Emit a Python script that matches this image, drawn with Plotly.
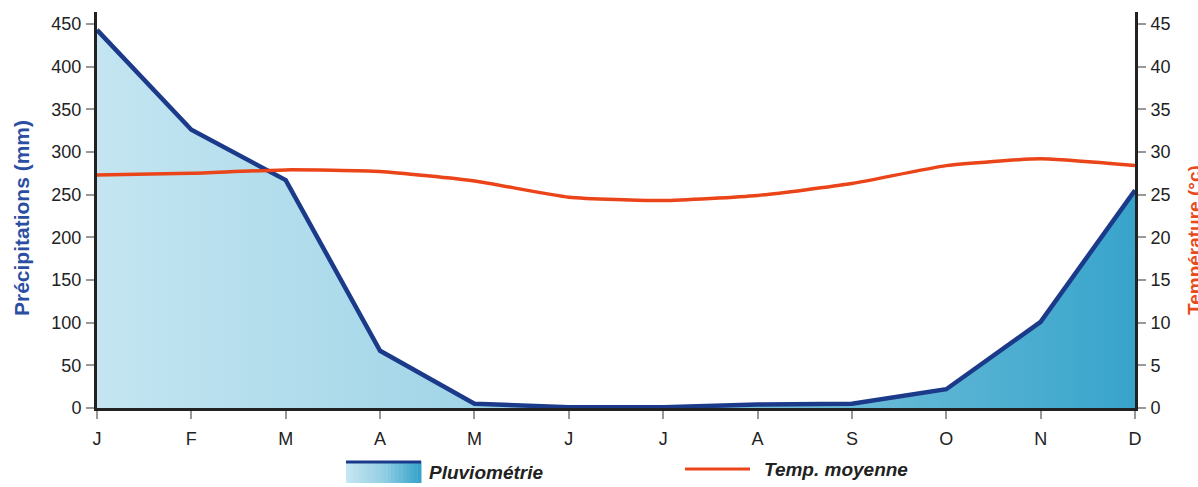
import plotly.graph_objects as go

months = ["J", "F", "M", "A", "M", "J", "J", "A", "S", "O", "N", "D"]
precip_mm = [443, 326, 267, 67, 5, 1, 1, 4, 5, 22, 101, 255]
temp_c = [27.3, 27.5, 27.9, 27.7, 26.6, 24.7, 24.3, 24.9, 26.3, 28.4, 29.2, 28.4]
precip_ticks = [0, 50, 100, 150, 200, 250, 300, 350, 400, 450]
temp_ticks = [0, 5, 10, 15, 20, 25, 30, 35, 40, 45]
series_names = ["Pluviométrie", "Temp. moyenne"]

x = list(range(len(months)))

W, H = 1198, 487
L, R, T, B = 97, 63, 12, 79
pw = W - L - R
ph = H - T - B

font_fam = "Liberation Sans, Arial, sans-serif"
grad_left = (196, 229, 241)
grad_mid = (147, 207, 227)
grad_right = (56, 164, 203)
blue_line = "#1b3a8a"
red_line = "#ea4418"


def px_x(p):
    return (p - L) / pw


def px_y(p):
    return (H - B - p) / ph


def lerp_color(t):
    if t < 0.5:
        a, b, u = grad_left, grad_mid, t / 0.5
    else:
        a, b, u = grad_mid, grad_right, (t - 0.5) / 0.5
    return "rgb(%d,%d,%d)" % tuple(round(a[i] + (b[i] - a[i]) * u) for i in range(3))


fig = go.Figure()
fig.add_trace(go.Scatter(
    x=x, y=precip_mm, mode="lines", name=series_names[0],
    line=dict(color=blue_line, width=4.5),
    fill="tozeroy",
    fillgradient=dict(type="horizontal",
                      colorscale=[[0, "rgb(%d,%d,%d)" % grad_left],
                                  [0.5, "rgb(%d,%d,%d)" % grad_mid],
                                  [1, "rgb(%d,%d,%d)" % grad_right]]),
    yaxis="y", showlegend=False,
))
fig.add_trace(go.Scatter(
    x=x, y=temp_c, mode="lines", name=series_names[1],
    line=dict(color=red_line, width=3.5, shape="spline", smoothing=0.5),
    yaxis="y2", showlegend=False,
))

axis_common = dict(
    showgrid=False, zeroline=False, showline=True, linecolor="#222", linewidth=3,
    ticks="outside", ticklen=8, tickcolor="#999", tickwidth=1.5,
    tickfont=dict(family=font_fam, size=18, color="#222"),
)

# custom legend (gradient swatch like the reference)
shapes = []
bx0, bx1, by0, by1 = 346, 421, 461, 483
n = 20
for i in range(n):
    shapes.append(dict(type="rect", xref="paper", yref="paper",
                       x0=px_x(bx0 + (bx1 - bx0) * i / n),
                       x1=px_x(bx0 + (bx1 - bx0) * (i + 1) / n + 0.5),
                       y0=px_y(by1), y1=px_y(by0),
                       fillcolor=lerp_color(i / (n - 1)), line=dict(width=0),
                       layer="above"))
shapes.append(dict(type="line", xref="paper", yref="paper",
                   x0=px_x(bx0), x1=px_x(bx1), y0=px_y(462), y1=px_y(462),
                   line=dict(color=blue_line, width=3)))
shapes.append(dict(type="line", xref="paper", yref="paper",
                   x0=px_x(685), x1=px_x(750), y0=px_y(469), y1=px_y(469),
                   line=dict(color=red_line, width=3)))

legend_font = dict(family=font_fam, size=19, color="#222", style="italic", weight="bold")

fig.update_layout(
    width=W, height=H,
    margin=dict(l=L, r=R, t=T, b=B),
    paper_bgcolor="white", plot_bgcolor="white",
    xaxis=dict(range=[0, 11], tickvals=x, ticktext=months, ticklabelstandoff=4,
               **axis_common),
    yaxis=dict(range=[0, 464], tickvals=precip_ticks, ticklabelstandoff=1, **axis_common),
    yaxis2=dict(range=[0, 46.4], tickvals=temp_ticks, overlaying="y", side="right",
                ticklabelstandoff=1, **axis_common),
    showlegend=False,
    shapes=shapes,
    annotations=[
        dict(text="<b>Précipitations (mm)</b>", xref="paper", yref="paper",
             x=px_x(21), y=px_y(218), textangle=-90, showarrow=False,
             font=dict(family=font_fam, size=21, color="#2b4ea2"),
             xanchor="center", yanchor="middle"),
        dict(text="<b>Température (°c)</b>", xref="paper", yref="paper",
             x=px_x(1195), y=px_y(240), textangle=-90, showarrow=False,
             font=dict(family=font_fam, size=19, color="#e84a1c"),
             xanchor="center", yanchor="middle"),
        dict(text=series_names[0], xref="paper", yref="paper",
             x=px_x(427), y=px_y(472), showarrow=False, font=legend_font,
             xanchor="left", yanchor="middle"),
        dict(text=series_names[1], xref="paper", yref="paper",
             x=px_x(762), y=px_y(469), showarrow=False, font=legend_font,
             xanchor="left", yanchor="middle"),
    ],
)

fig.write_html("out.html", config={"displayModeBar": False},
               post_script="document.body.style.margin='0px';")
